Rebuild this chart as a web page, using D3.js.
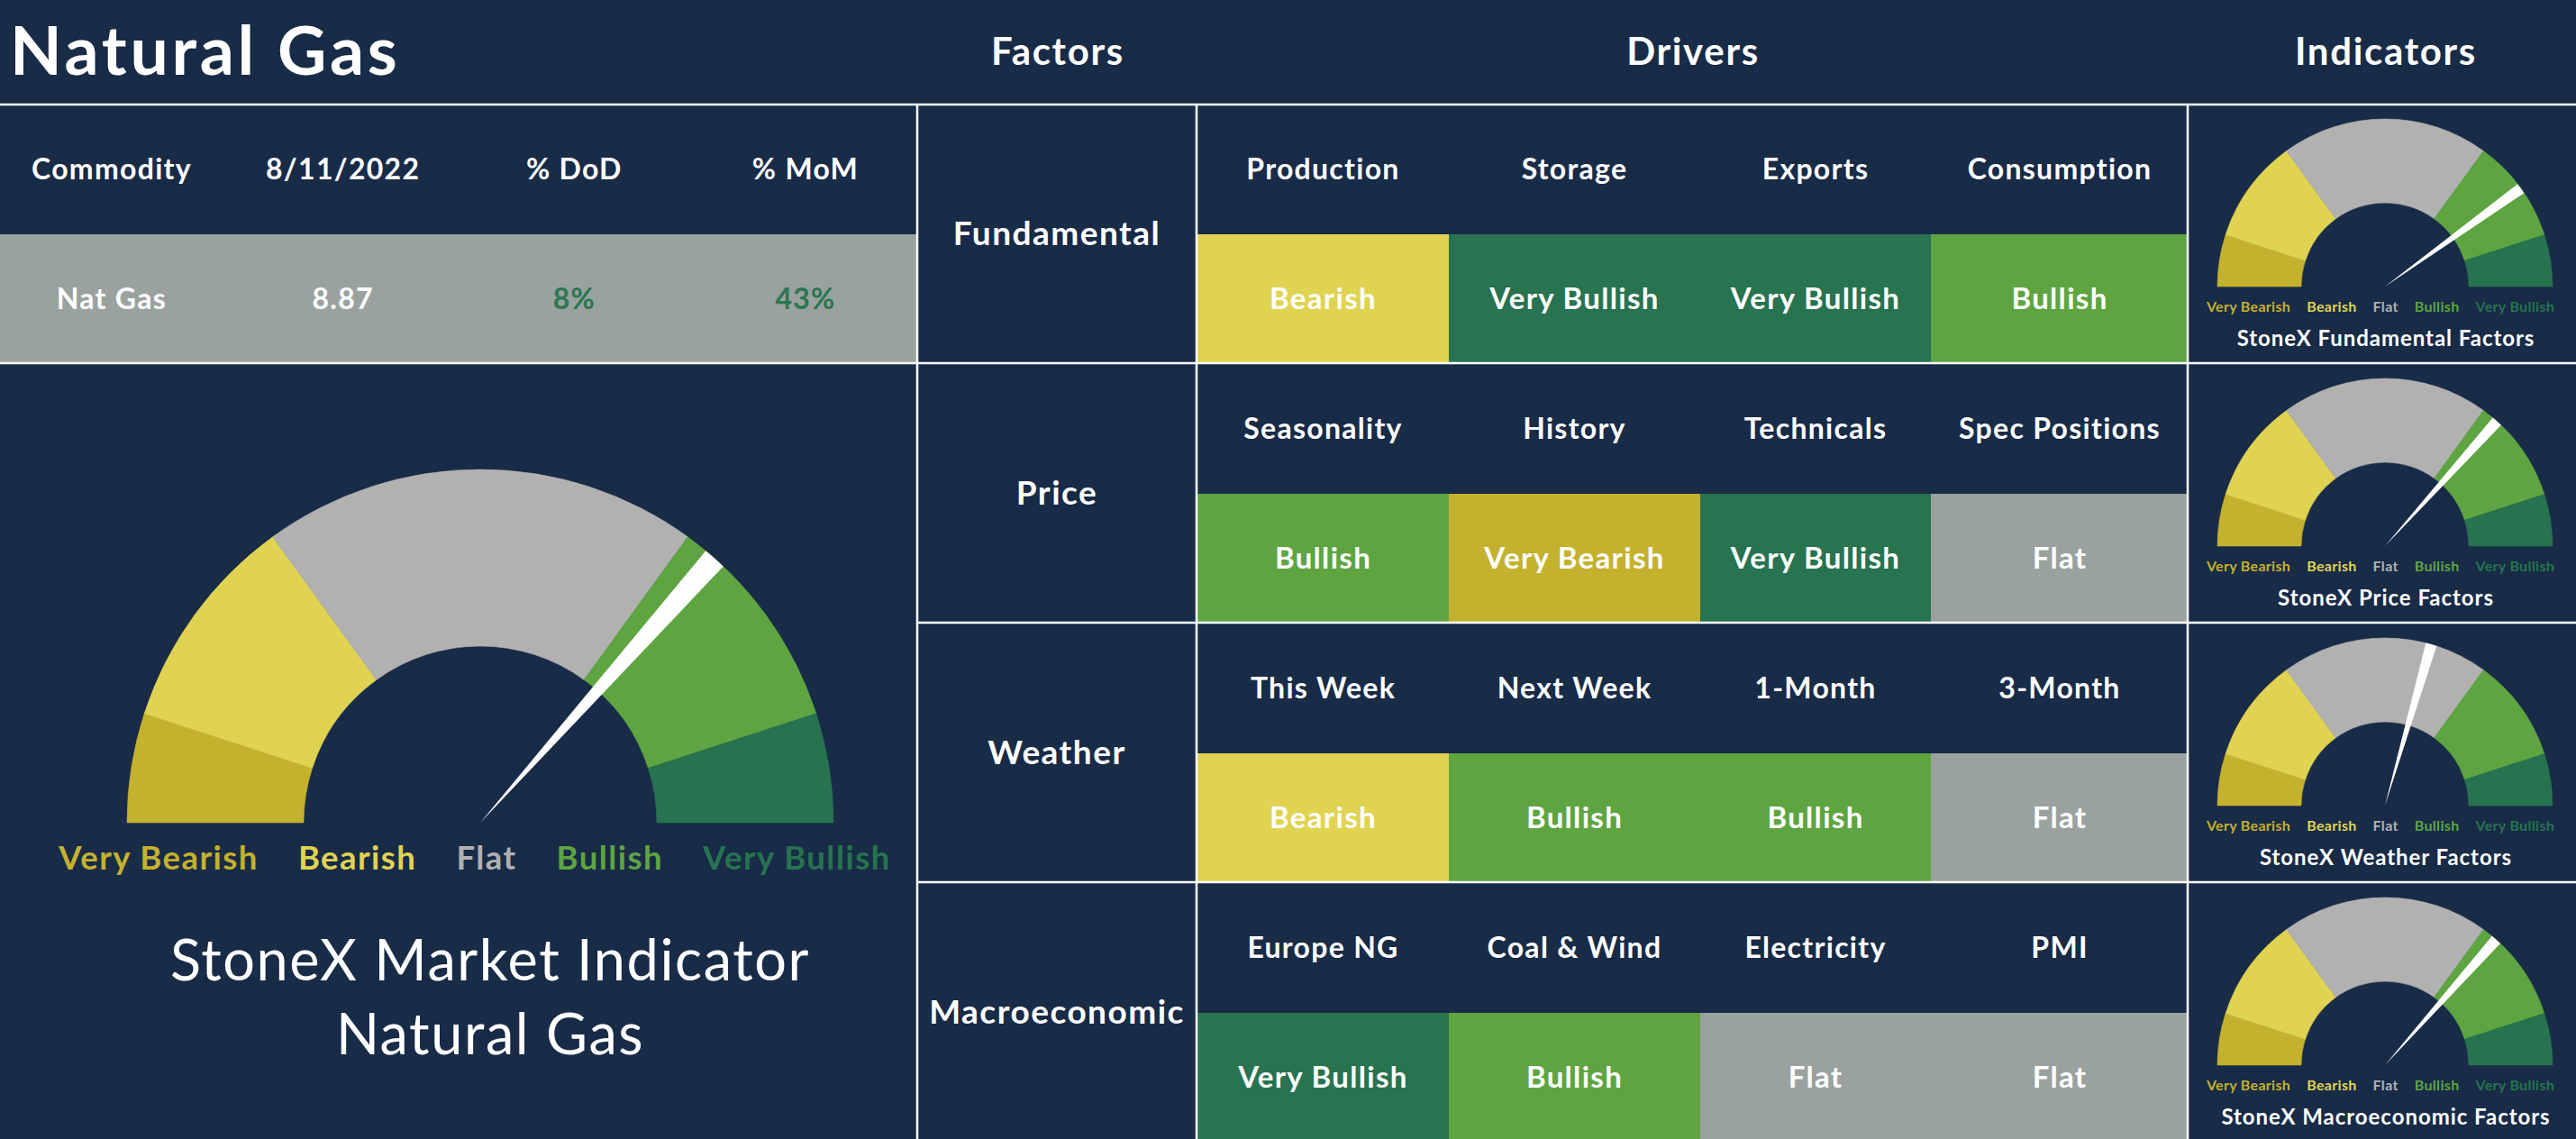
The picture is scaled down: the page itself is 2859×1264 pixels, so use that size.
<!DOCTYPE html>
<html><head><meta charset="utf-8">
<script src="https://cdn.jsdelivr.net/npm/d3@7"></script>
<style>
html,body{margin:0;padding:0;background:#182b47;overflow:hidden}
svg{display:block}
text{font-family:Lato,"Open Sans",sans-serif}
</style>
</head><body>
<svg id="chart" width="2859" height="1264"></svg>
<script>
// ---------------- data ----------------
const pageTitle = "Natural Gas";
const sectionHeaders = ["Factors", "Drivers", "Indicators"];
const tableHeaders = ["Commodity", "8/11/2022", "% DoD", "% MoM"];
const tableValues = ["Nat Gas", "8.87", "8%", "43%"];
const factors = ["Fundamental", "Price", "Weather", "Macroeconomic"];
const drivers = [
  ["Production", "Storage", "Exports", "Consumption"],
  ["Seasonality", "History", "Technicals", "Spec Positions"],
  ["This Week", "Next Week", "1-Month", "3-Month"],
  ["Europe NG", "Coal & Wind", "Electricity", "PMI"]
];
const signals = [
  ["Bearish", "Very Bullish", "Very Bullish", "Bullish"],
  ["Bullish", "Very Bearish", "Very Bullish", "Flat"],
  ["Bearish", "Bullish", "Bullish", "Flat"],
  ["Very Bullish", "Bullish", "Flat", "Flat"]
];
const categories = ["Very Bearish", "Bearish", "Flat", "Bullish", "Very Bullish"];
const segmentShares = [10, 20, 40, 20, 10];
const mainTitleLines = ["StoneX Market Indicator", "Natural Gas"];
const mainValue = 0.731;
const indicatorTitles = ["StoneX Fundamental Factors", "StoneX Price Factors", "StoneX Weather Factors", "StoneX Macroeconomic Factors"];
const indicatorValues = [0.801, 0.733, 0.589, 0.731];

// ---------------- styles ----------------
const catColor = d3.scaleOrdinal().domain(categories)
  .range(["#c4b12e", "#e0d352", "#b1b1b1", "#5ea542", "#277350"]);
const cellColor = d3.scaleOrdinal().domain(categories)
  .range(["#c4b12e", "#e0d352", "#99a29f", "#5ea542", "#287350"]);
const GRAY_ROW = "#99a29f";
const POS_GREEN = "#2b7650";
const LS = "0.04em";

const W = 2859, H = 1264;
const svg = d3.select("#chart");

// ---------------- layout scales ----------------
const rowY = d3.scaleBand().domain(factors).range([115, 1267]);
const topHalf = 145;
const colEdges = d3.scaleOrdinal().domain([0, 1, 2, 3, 4]).range([1329, 1608, 1887, 2143, 2429]);
const leftX = d3.scalePoint().domain(tableHeaders).range([124, 894]);
const angle = d3.scaleLinear().domain([0, 1]).range([-Math.PI / 2, Math.PI / 2]);
const pie = d3.pie().sort(null).value(d => d).startAngle(-Math.PI / 2).endAngle(Math.PI / 2);
const needleHalf = 1.9 * Math.PI / 180;

// ---------------- title & section headers ----------------
svg.append("text").attr("x", 11).attr("y", 83)
  .attr("font-size", 75).attr("font-weight", 700).attr("fill", "#fff")
  .attr("letter-spacing", "0.05em").text(pageTitle);

const headerX = d3.scaleOrdinal().domain(sectionHeaders).range([1174, 1879, 2648]);
svg.selectAll("text.sec").data(sectionHeaders).join("text")
  .attr("class", "sec").attr("x", d => headerX(d)).attr("y", 72)
  .attr("text-anchor", "middle").attr("font-size", 42).attr("font-weight", 700)
  .attr("letter-spacing", LS).attr("fill", "#fff").text(d => d);

// ---------------- left table ----------------
svg.append("rect").attr("x", 0).attr("y", 260).attr("width", 1018).attr("height", 143).attr("fill", GRAY_ROW);
svg.selectAll("text.th").data(tableHeaders).join("text")
  .attr("class", "th").attr("x", d => leftX(d)).attr("y", 199)
  .attr("text-anchor", "middle").attr("font-size", 32).attr("font-weight", 700)
  .attr("letter-spacing", LS).attr("fill", "#fff").text(d => d);
svg.selectAll("text.tv").data(tableValues).join("text")
  .attr("class", "tv").attr("x", (d, i) => leftX(tableHeaders[i])).attr("y", 343)
  .attr("text-anchor", "middle").attr("font-size", 32).attr("font-weight", 700)
  .attr("letter-spacing", LS)
  .attr("fill", d => /%$/.test(d) && parseFloat(d) > 0 ? POS_GREEN : "#fff").text(d => d);

// ---------------- gauge helper ----------------
function gauge(g, cx, cy, R, r, value, labelY, labelSize, labelGap, labelCx, labelLS) {
  const arcs = pie(segmentShares);
  const arc = d3.arc().innerRadius(r).outerRadius(R);
  const gg = g.append("g").attr("transform", `translate(${cx},${cy})`);
  gg.selectAll("path.seg").data(arcs).join("path")
    .attr("class", "seg").attr("d", arc)
    .attr("fill", (d, i) => catColor(categories[i]))
    .attr("stroke", (d, i) => catColor(categories[i])).attr("stroke-width", 0.6);
  const a = angle(value);
  gg.append("path").attr("fill", "#fff")
    .attr("d", d3.arc().innerRadius(0).outerRadius(R)({ startAngle: a - needleHalf, endAngle: a + needleHalf }));
  const lg = g.append("g");
  const t = lg.selectAll("text").data(categories).join("text")
    .attr("y", labelY).attr("font-size", labelSize).attr("font-weight", 700)
    .attr("letter-spacing", labelLS)
    .attr("fill", d => catColor(d)).text(d => d);
  const widths = t.nodes().map(n => n.getComputedTextLength());
  const total = d3.sum(widths) + labelGap * (widths.length - 1);
  let x = labelCx - total / 2;
  t.attr("x", (d, i) => { const v = x; x += widths[i] + labelGap; return v; });
}

// ---------------- main gauge ----------------
gauge(svg, 533, 913, 392, 196, mainValue, 965, 36.5, 44, 527, LS);
svg.selectAll("text.mt").data(mainTitleLines).join("text")
  .attr("class", "mt").attr("x", 544).attr("y", (d, i) => 1088 + i * 82)
  .attr("text-anchor", "middle").attr("font-size", 63).attr("font-weight", 400)
  .attr("letter-spacing", "0.025em").attr("fill", "#fff").text(d => d);

// ---------------- driver grid ----------------
factors.forEach((f, fi) => {
  const y0 = rowY(f);
  const rowG = svg.append("g");
  rowG.selectAll("rect").data(signals[fi]).join("rect")
    .attr("x", (d, i) => colEdges(i)).attr("y", y0 + topHalf)
    .attr("width", (d, i) => colEdges(i + 1) - colEdges(i))
    .attr("height", rowY.bandwidth() - topHalf)
    .attr("fill", d => cellColor(d));
  rowG.selectAll("text.dh").data(drivers[fi]).join("text")
    .attr("class", "dh").attr("x", (d, i) => (colEdges(i) + colEdges(i + 1)) / 2)
    .attr("y", y0 + 84).attr("text-anchor", "middle").attr("font-size", 32)
    .attr("font-weight", 700).attr("letter-spacing", LS).attr("fill", "#fff").text(d => d);
  rowG.selectAll("text.sv").data(signals[fi]).join("text")
    .attr("class", "sv").attr("x", (d, i) => (colEdges(i) + colEdges(i + 1)) / 2)
    .attr("y", y0 + 228).attr("text-anchor", "middle").attr("font-size", 33)
    .attr("font-weight", 700).attr("letter-spacing", LS).attr("fill", "#fff").text(d => d);
  rowG.append("text").attr("x", 1173).attr("y", y0 + 157)
    .attr("text-anchor", "middle").attr("font-size", 37).attr("font-weight", 700)
    .attr("letter-spacing", LS).attr("fill", "#fff").text(f);
  gauge(svg, 2647, y0 + 203, 186, 93, indicatorValues[fi], y0 + 231, 16, 18, 2642, "0.02em");
  svg.append("text").attr("x", 2648).attr("y", y0 + 269)
    .attr("text-anchor", "middle").attr("font-size", 24).attr("font-weight", 700)
    .attr("letter-spacing", LS).attr("fill", "#fff").text(indicatorTitles[fi]);
});

// ---------------- grid lines ----------------
const lines = svg.append("g").attr("stroke", "#fff").attr("stroke-width", 2.5);
lines.append("line").attr("x1", 0).attr("x2", W).attr("y1", 116).attr("y2", 116);
lines.append("line").attr("x1", 0).attr("x2", W).attr("y1", rowY(factors[1])).attr("y2", rowY(factors[1]));
[2, 3].forEach(i => lines.append("line").attr("x1", 1018).attr("x2", W)
  .attr("y1", rowY(factors[i])).attr("y2", rowY(factors[i])));
[1018, 1328, 2428].forEach(x => lines.append("line").attr("x1", x).attr("x2", x).attr("y1", 116).attr("y2", H));
</script>
</body></html>
